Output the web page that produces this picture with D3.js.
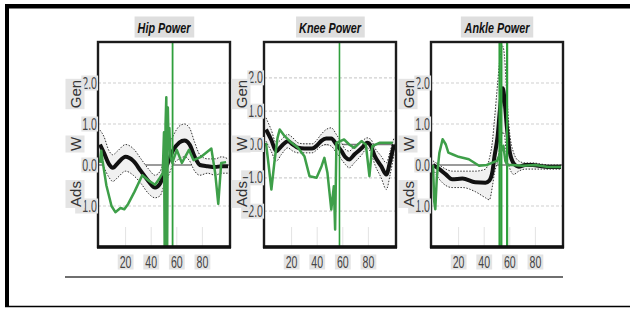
<!DOCTYPE html>
<html>
<head>
<meta charset="utf-8">
<script src="https://cdn.jsdelivr.net/npm/d3@7"></script>
<style>
  body { margin: 0; background: #fff; }
  svg { display: block; font-family: "Liberation Sans", Arial, sans-serif; }
</style>
</head>
<body>
<div id="chart"></div>
<script>
// ---- data (percent of gait cycle vs power, W/kg) ----
const xTicks = [20, 40, 60, 80];

const hipX     = [0, 3, 7, 10, 14, 20, 26, 32, 38, 43, 47, 50, 53, 57, 62, 66, 70, 74, 78, 84, 90, 95, 100];
const hipMean  = [0.5, 0.3, 0.02, -0.07, 0.05, 0.2, 0.1, -0.15, -0.4, -0.55, -0.45, -0.2, 0.05, 0.35, 0.55, 0.6, 0.5, 0.2, 0.0, -0.03, -0.05, -0.03, -0.03];
const hipUpper = [0.85, 0.7, 0.35, 0.25, 0.35, 0.5, 0.4, 0.15, -0.1, -0.25, -0.15, 0.1, 0.4, 0.7, 0.95, 1.0, 0.9, 0.55, 0.25, 0.15, 0.15, 0.2, 0.15];
const hipLower = [0.15, -0.05, -0.3, -0.4, -0.3, -0.15, -0.25, -0.45, -0.7, -0.8, -0.75, -0.5, -0.3, 0.0, 0.15, 0.2, 0.1, -0.15, -0.25, -0.2, -0.25, -0.2, -0.2];
const hipGreenX = [0, 1, 2, 5, 9, 12, 16, 19, 22, 27, 33, 38, 43, 46, 49, 50, 50.6, 51.2, 51.8, 52.4, 53, 53.6, 54.2, 55, 56.5, 60, 64, 69.5, 73, 79, 87, 90, 92.4, 94.7, 98.5];
const hipGreen  = [0.05, 0.35, 0.1, -0.5, -1.0, -1.15, -1.05, -1.08, -0.95, -0.65, -0.25, -0.38, -0.48, -0.35, -0.2, 0.8, -2.5, 1.0, 1.65, -2.5, 1.4, 0.5, 0.9, 0.2, 0.05, 0.37, 0.05, 0.37, 0.12, 0.2, 0.4, -0.2, -0.95, 0.05, 0.07];
const hipMarkers = [56.7];

const kneeX     = [0, 4, 8, 12, 17, 21, 25, 30, 36, 40, 43, 47, 51, 55, 59, 62, 65, 69, 75, 79, 82, 85, 90, 94, 97, 100];
const kneeMean  = [0.45, 0.15, -0.2, -0.05, 0.1, 0.0, -0.1, -0.12, -0.12, -0.02, 0.1, 0.18, 0.18, 0.0, -0.2, -0.38, -0.45, -0.3, -0.1, 0.05, -0.05, -0.35, -0.65, -0.9, -0.5, 0.0];
const kneeUpper = [0.8, 0.45, 0.05, 0.15, 0.3, 0.2, 0.05, 0.02, 0.02, 0.15, 0.3, 0.45, 0.5, 0.3, 0.05, -0.15, -0.2, -0.05, 0.1, 0.2, 0.15, -0.1, -0.35, -0.55, -0.2, 0.2];
const kneeLower = [0.1, -0.2, -0.5, -0.3, -0.1, -0.2, -0.25, -0.25, -0.25, -0.15, -0.05, 0.0, -0.05, -0.25, -0.45, -0.6, -0.7, -0.55, -0.3, -0.1, -0.25, -0.6, -1.0, -1.35, -0.9, -0.3];
const kneeGreenX = [0, 2, 4.2, 6.8, 9, 10.7, 14.6, 20, 25, 30, 34, 39.5, 43.4, 45.6, 48, 51, 53, 54, 55, 58, 61, 65, 69, 74.6, 78, 80.8, 83, 88.6, 94, 99];
const kneeGreen  = [0.05, -0.6, -1.35, -0.45, 0.2, 0.45, 0.25, 0.05, -0.1, -0.35, -0.95, -1.0, -0.65, -0.4, -0.85, -1.95, -1.25, -2.55, 0.05, 0.1, 0.15, 0.0, -0.1, 0.1, 0.0, -0.95, -0.05, 0.05, 0.05, 0.05];
const kneeMarkers = [57.4];

const ankleX     = [0, 5, 10, 15, 23, 33, 41, 44, 46.5, 48, 50.5, 52.3, 54.5, 56, 57.5, 59.6, 63, 67, 72, 78, 85, 92, 100];
const ankleMean  = [0.0, -0.1, -0.23, -0.35, -0.33, -0.42, -0.43, -0.38, -0.15, 0.2, 0.7, 1.35, 1.87, 1.55, 1.0, 0.38, 0.04, -0.04, 0.0, 0.0, -0.03, -0.05, -0.05];
const ankleUpper = [0.1, 0.0, -0.1, -0.15, -0.15, -0.15, -0.1, 0.15, 0.6, 1.1, 2.0, 2.6, 2.9, 2.6, 1.8, 0.87, 0.3, 0.1, 0.05, 0.05, 0.02, 0.0, 0.0];
const ankleLower = [-0.1, -0.35, -0.5, -0.55, -0.55, -0.65, -0.8, -0.85, -0.5, -0.2, 0.1, 0.45, 0.8, 0.7, 0.2, -0.05, -0.23, -0.15, -0.1, -0.1, -0.1, -0.1, -0.1];
const ankleGreenX = [0, 1, 1.8, 3, 5, 7.5, 10, 12, 16, 20, 28, 36, 42, 46, 50, 55, 56.5, 58, 62, 70, 80, 90, 100];
const ankleGreen  = [0.0, -0.9, -1.08, -0.3, 0.3, 0.63, 0.5, 0.3, 0.25, 0.2, 0.14, -0.02, 0.0, 0.05, 0.1, 0.47, 0.1, 0.0, 0.0, -0.02, 0.0, -0.05, -0.05];
const ankleMarkers = [52, 53.4, 57.9];

const panels = [
  { title: "Hip Power", left: 98, yDomain: [-2, 3], yTicks: [2, 1, 0, -1],
    x: hipX, mean: hipMean, upper: hipUpper, lower: hipLower, gx: hipGreenX, g: hipGreen, markers: hipMarkers, markerW: 1.8 },
  { title: "Knee Power", left: 264, yDomain: [-3, 3], yTicks: [2, 1, 0, -1, -2], yPad: 2.5,
    x: kneeX, mean: kneeMean, upper: kneeUpper, lower: kneeLower, gx: kneeGreenX, g: kneeGreen, markers: kneeMarkers, markerW: 1.6 },
  { title: "Ankle Power", left: 431, yDomain: [-2, 3], yTicks: [2, 1, 0, -1],
    x: ankleX, mean: ankleMean, upper: ankleUpper, lower: ankleLower, gx: ankleGreenX, g: ankleGreen, markers: ankleMarkers, markerW: 2.2 }
];

const width = 630, height = 309;
const boxTop = 42, boxBottom = 247, boxW = 132;
const green = "#3e9f49", markGreen = "#2f9f3c", tickBg = "#e4e4e4";

const svg = d3.select("#chart").append("svg")
  .attr("width", width)
  .attr("height", height);

// outer frame (scanned page edge)
svg.append("rect").attr("x", 5).attr("y", 4).attr("width", width - 5).attr("height", 4.5).attr("fill", "#000");
svg.append("rect").attr("x", 5).attr("y", 4).attr("width", 4).attr("height", 303).attr("fill", "#000");
svg.append("line").attr("x1", 5).attr("x2", width).attr("y1", 306.5).attr("y2", 306.5)
  .attr("stroke", "#000").attr("stroke-width", 1.5);

// separator line under the panels
svg.append("line").attr("x1", 65).attr("x2", 563).attr("y1", 277).attr("y2", 277)
  .attr("stroke", "#6f6f6f").attr("stroke-width", 2);

// text with a grey box behind it; squeeze narrows the glyphs like the scan
function bgText(g, x, y, txt, opts) {
  const t = g.append("text")
    .attr("x", x).attr("y", y)
    .attr("text-anchor", opts.anchor || "middle")
    .attr("dominant-baseline", "central")
    .attr("transform", opts.rotate ? `rotate(-90, ${x}, ${y})` : null)
    .style("font-size", opts.size + "px")
    .style("font-weight", opts.weight || "normal")
    .style("font-style", opts.italic ? "italic" : "normal")
    .attr("fill", opts.fill || "#444")
    .text(txt);
  if (opts.squeeze) {
    const len = t.node().getComputedTextLength();
    t.attr("textLength", len * opts.squeeze).attr("lengthAdjust", "spacingAndGlyphs");
  }
  const b = t.node().getBBox();
  const px = opts.padX || 1, py = opts.padY || 1;
  let r;
  if (opts.rotate) {
    r = { x: x - b.height / 2 - py, y: y - b.width / 2 - px, w: b.height + 2 * py, h: b.width + 2 * px };
  } else {
    r = { x: b.x - px, y: b.y - py, w: b.width + 2 * px, h: b.height + 2 * py };
  }
  g.insert("rect", () => t.node())
    .attr("x", r.x).attr("y", r.y).attr("width", r.w).attr("height", r.h)
    .attr("fill", opts.bg || tickBg);
}

panels.forEach((p, i) => {
  const pad = p.yPad || 0;
  const x = d3.scaleLinear().domain([0, 100]).range([p.left + 2, p.left + boxW - 2]);
  const y = d3.scaleLinear().domain(p.yDomain).range([boxBottom - pad, boxTop + pad]);
  const g = svg.append("g");

  const clipId = "clip" + i;
  g.append("clipPath").attr("id", clipId)
    .append("rect").attr("x", p.left).attr("y", boxTop).attr("width", boxW).attr("height", boxBottom - boxTop);

  // horizontal grid
  g.selectAll(".hgrid")
    .data(p.yTicks.filter(d => d !== 0))
    .join("line")
    .attr("x1", p.left).attr("x2", p.left + boxW)
    .attr("y1", d => y(d)).attr("y2", d => y(d))
    .attr("stroke", "#cfcfcf").attr("stroke-width", 1.2).attr("stroke-dasharray", "3,2");

  // short vertical grid near bottom
  g.selectAll(".vgrid")
    .data(xTicks)
    .join("line")
    .attr("x1", d => x(d)).attr("x2", d => x(d))
    .attr("y1", boxBottom - 20).attr("y2", boxBottom)
    .attr("stroke", "#e3e3e3").attr("stroke-width", 1);

  // zero line
  g.append("line")
    .attr("x1", p.left).attr("x2", p.left + boxW)
    .attr("y1", y(0)).attr("y2", y(0))
    .attr("stroke", "#7a7a7a").attr("stroke-width", 1.5);

  const plot = g.append("g").attr("clip-path", `url(#${clipId})`);
  const band = p.x.map((v, k) => ({ x: v, m: p.mean[k], hi: p.upper[k], lo: p.lower[k] }));

  plot.append("path")
    .datum(band)
    .attr("fill", "#f1f1f1")
    .attr("d", d3.area().curve(d3.curveMonotoneX).x(d => x(d.x)).y0(d => y(d.lo)).y1(d => y(d.hi)));

  ["hi", "lo"].forEach(key => {
    plot.append("path")
      .datum(band)
      .attr("fill", "none")
      .attr("stroke", "#333")
      .attr("stroke-width", 1)
      .attr("stroke-dasharray", "1.5,1.5")
      .attr("d", d3.line().curve(d3.curveMonotoneX).x(d => x(d.x)).y(d => y(d[key])));
  });

  plot.append("path")
    .datum(band)
    .attr("fill", "none")
    .attr("stroke", "#111")
    .attr("stroke-width", 4)
    .attr("stroke-linejoin", "round")
    .attr("d", d3.line().curve(d3.curveMonotoneX).x(d => x(d.x)).y(d => y(d.m)));

  // vertical event markers
  plot.selectAll(".marker")
    .data(p.markers)
    .join("line")
    .attr("x1", d => x(d)).attr("x2", d => x(d))
    .attr("y1", boxTop).attr("y2", boxBottom)
    .attr("stroke", markGreen).attr("stroke-width", p.markerW);

  const gData = p.gx.map((v, k) => ({ x: v, v: p.g[k] }));
  plot.append("path")
    .datum(gData)
    .attr("fill", "none")
    .attr("stroke", green)
    .attr("stroke-width", 2.5)
    .attr("stroke-linejoin", "round")
    .attr("d", d3.line().x(d => x(d.x)).y(d => y(d.v)));

  // plot box
  g.append("rect")
    .attr("x", p.left).attr("y", boxTop)
    .attr("width", boxW).attr("height", boxBottom - boxTop)
    .attr("fill", "none").attr("stroke", "#1c1c1c").attr("stroke-width", 2.4);
  g.append("line")
    .attr("x1", p.left - 1).attr("x2", p.left + boxW + 1)
    .attr("y1", boxBottom).attr("y2", boxBottom)
    .attr("stroke", "#111").attr("stroke-width", 3.5);

  // tick labels
  p.yTicks.forEach(t => {
    bgText(g, p.left - 1, y(t), d3.format(".1f")(t), { anchor: "end", size: 16, squeeze: 0.66, padX: 1, padY: -1 });
  });
  xTicks.forEach(t => {
    bgText(g, x(t), 262, String(t), { size: 16, squeeze: 0.66, padX: 2, padY: -1 });
  });

  // axis words
  const lx = p.left - 23;
  bgText(g, lx, 94, "Gen", { rotate: true, size: 15, fill: "#333", padX: 1, padY: 0 });
  bgText(g, lx, 144, "W", { rotate: true, size: 15, fill: "#333", padX: 1, padY: 0 });
  bgText(g, lx, 194, "Ads", { rotate: true, size: 15, fill: "#333", padX: 1, padY: 0 });

  // title
  bgText(g, p.left + boxW / 2, 27, p.title, { size: 15, weight: "bold", italic: true, squeeze: 0.72, fill: "#111", padX: 3, padY: 2, bg: "#dedede" });
});
</script>
</body>
</html>
